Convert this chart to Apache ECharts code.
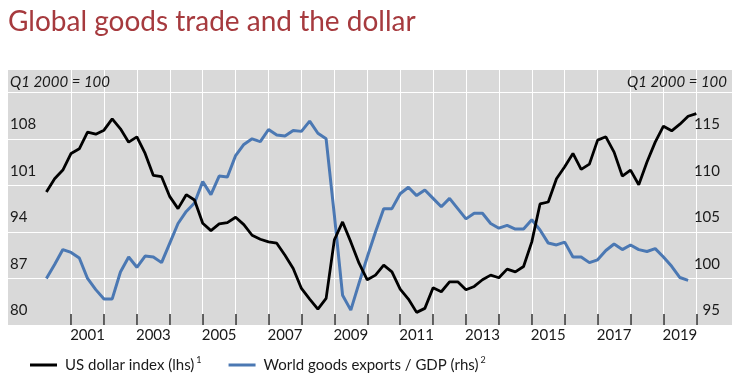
<!DOCTYPE html>
<html>
<head>
<meta charset="utf-8">
<script src="https://cdn.jsdelivr.net/npm/echarts@6/dist/echarts.min.js"></script>
<style>
html,body{margin:0;padding:0;background:#fff;}
#chart{width:743px;height:388px;}
</style>
</head>
<body>
<div id="chart"></div>
<script>
// Quarterly data, first value = Q1 2000
const startYear = 2000;
const dollarIndex = [
  100.0, 102.0, 103.3, 105.8, 106.5, 109.0, 108.7, 109.3,
  111.0, 109.5, 107.5, 108.3, 105.8, 102.5, 102.3, 99.3,
  97.5, 99.6, 98.8, 95.3, 94.2, 95.2, 95.4, 96.2,
  95.1, 93.5, 92.9, 92.5, 92.3, 90.5, 88.5, 85.5,
  83.9, 82.4, 84.0, 92.8, 95.5, 92.5, 89.3, 86.8,
  87.5, 89.0, 88.0, 85.4, 83.9, 81.9, 82.5, 85.6,
  85.0, 86.5, 86.5, 85.3, 85.8, 86.8, 87.5, 87.1,
  88.4, 88.0, 88.8, 92.5, 98.2, 98.5, 102.0, 103.8,
  105.8, 103.4, 104.2, 107.8, 108.3, 106.0, 102.4, 103.3,
  101.1, 104.5, 107.5, 109.9, 109.2, 110.2, 111.4, 111.8
];
const exportsToGdp = [
  100.0, 101.5, 103.1, 102.8, 102.2, 100.0, 98.8, 97.8,
  97.8, 100.7, 102.3, 101.2, 102.4, 102.3, 101.7, 103.8,
  105.9, 107.2, 108.1, 110.4, 109.0, 111.0, 110.9, 113.2,
  114.4, 115.0, 114.7, 116.0, 115.4, 115.3, 115.9, 115.8,
  116.9, 115.6, 115.0, 106.8, 98.2, 96.6, 99.5, 102.3,
  105.0, 107.5, 107.5, 109.1, 109.8, 108.9, 109.5, 108.6,
  107.7, 108.6, 107.5, 106.4, 107.0, 107.0, 105.9, 105.4,
  105.7, 105.3, 105.3, 106.3, 105.2, 103.8, 103.6, 103.9,
  102.3, 102.3, 101.7, 102.0, 103.0, 103.7, 103.1, 103.6,
  103.1, 102.9, 103.2, 102.3, 101.3, 100.1, 99.8
];
const xLabelYears = [2001, 2003, 2005, 2007, 2009, 2011, 2013, 2015, 2017, 2019];
const tickYears = [2000, 2001, 2002, 2003, 2004, 2005, 2006, 2007, 2008, 2009,
                   2010, 2011, 2012, 2013, 2014, 2015, 2016, 2017, 2018, 2019];
const leftLabels = [80, 87, 94, 101, 108];
const rightLabels = [95, 100, 105, 110, 115];
const seriesNames = ['US dollar index (lhs)', 'World goods exports / GDP (rhs)'];
const footnotes = ['1', '2'];

// monthly category axis (month-end positions), Jan 1999 .. Jan 2021
function pad(m){ return (m < 10 ? '0' : '') + m; }
const months = [];
for (let y = 1999; y <= 2021; y++) {
  for (let m = 1; m <= 12; m++) {
    if (y === 2021 && m > 1) break;
    months.push(y + '-' + pad(m));
  }
}
function quarterName(i){
  const y = startYear + Math.floor(i / 4);
  const m = 3 * (i % 4 + 1);
  return y + '-' + pad(m);
}
const dollarData = dollarIndex.map((v, i) => [quarterName(i), v]);
const exportsData = exportsToGdp.map((v, i) => [quarterName(i), v]);

function isYearEnd(name){
  const y = +name.slice(0, 4), m = +name.slice(5);
  return m === 12 && tickYears.indexOf(y) >= 0;
}
function isLabelPos(name){
  const y = +name.slice(0, 4), m = +name.slice(5);
  return m === 6 && xLabelYears.indexOf(y) >= 0;
}

const FONT = 'Lato';
const TXT = '#1a1a1a';

const chart = echarts.init(document.getElementById('chart'), null, {renderer: 'canvas'});
chart.setOption({
  animation: false,
  backgroundColor: '#fff',
  textStyle: {fontFamily: FONT},
  title: {
    text: 'Global goods trade and the dollar',
    left: 8, top: 8, padding: 0,
    textStyle: {fontFamily: FONT, fontSize: 28, fontWeight: 'normal', color: '#a63a3e'}
  },
  grid: {
    left: 8, top: 69, width: 724, height: 256,
    show: true, backgroundColor: '#d9d9d9', borderWidth: 0
  },
  legend: {
    left: 25, top: 351,
    icon: 'rect', itemWidth: 27, itemHeight: 3, itemGap: 27,
    data: seriesNames,
    formatter: function(name){
      const k = seriesNames.indexOf(name);
      return name + '{sup|' + footnotes[k] + '}';
    },
    textStyle: {
      fontFamily: FONT, fontSize: 15, color: TXT, padding: [0, 0, 0, 3],
      rich: {sup: {fontFamily: FONT, fontSize: 9, color: TXT, padding: [0, 0, 9, 2]}}
    }
  },
  xAxis: {
    type: 'category',
    data: months,
    boundaryGap: false,
    axisLine: {show: false},
    axisTick: {
      show: true, inside: true, length: 11,
      interval: (idx, name) => isYearEnd(name),
      lineStyle: {color: '#333', width: 1.5}
    },
    splitLine: {
      show: true,
      interval: (idx, name) => isYearEnd(name),
      lineStyle: {color: '#ffffff', width: 1}
    },
    axisLabel: {
      interval: (idx, name) => isLabelPos(name),
      formatter: (name) => name.slice(0, 4),
      fontFamily: FONT, fontSize: 15, color: TXT, margin: 3
    }
  },
  yAxis: [
    {
      type: 'value', position: 'left',
      min: 80, max: 118.5, interval: 7,
      axisLine: {show: false}, axisTick: {show: false},
      splitLine: {show: true, lineStyle: {color: '#ffffff', width: 1}},
      axisLabel: {
        inside: true, margin: 2, align: 'left', verticalAlign: 'bottom',
        padding: [0, 0, 7, 0],
        fontFamily: FONT, fontSize: 15, color: TXT,
        formatter: v => leftLabels.indexOf(v) >= 0 ? String(v) : ''
      }
    },
    {
      type: 'value', position: 'right',
      min: 95, max: 122.5, interval: 5,
      axisLine: {show: false}, axisTick: {show: false},
      splitLine: {show: false},
      axisLabel: {
        inside: true, margin: 12, align: 'right', verticalAlign: 'bottom',
        padding: [0, 0, 7, 0],
        fontFamily: FONT, fontSize: 15, color: TXT,
        formatter: v => rightLabels.indexOf(v) >= 0 ? String(v) : ''
      }
    }
  ],
  graphic: [
    {type: 'text', left: 10, top: 75, z: 100,
     style: {text: 'Q1 2000 = 100', fontFamily: FONT, fontSize: 15, fontStyle: 'italic', fill: TXT}},
    {type: 'text', right: 16, top: 75, z: 100,
     style: {text: 'Q1 2000 = 100', fontFamily: FONT, fontSize: 15, fontStyle: 'italic', fill: TXT}}
  ],
  series: [
    {
      name: seriesNames[0], type: 'line', yAxisIndex: 0,
      data: dollarData, symbol: 'none', z: 3,
      lineStyle: {color: '#000000', width: 2.8},
      itemStyle: {color: '#000000'}
    },
    {
      name: seriesNames[1], type: 'line', yAxisIndex: 1,
      data: exportsData, symbol: 'none', z: 2,
      lineStyle: {color: '#4b78b3', width: 3},
      itemStyle: {color: '#4b78b3'}
    }
  ]
});
</script>
</body>
</html>
